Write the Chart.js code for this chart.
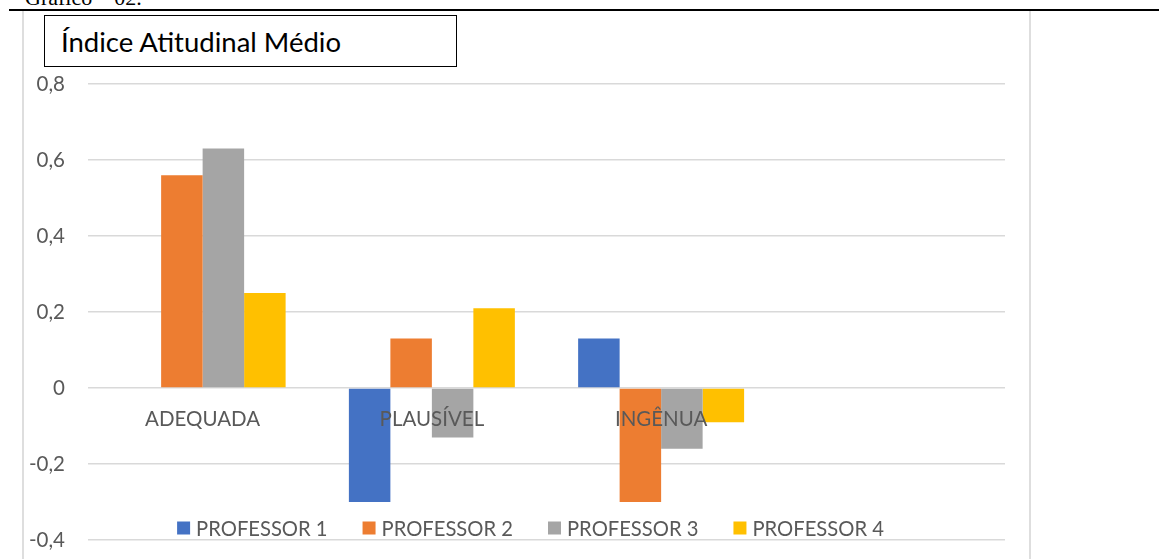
<!DOCTYPE html>
<html>
<head>
	<meta charset="UTF-8">
	<title>Índice Atitudinal Médio</title>
	<script src="https://cdn.jsdelivr.net/npm/chart.js"></script>
	<style>
		body {
			margin: 0;
			width: 1159px;
			height: 559px;
			overflow: hidden;
			background: #ffffff;
			position: relative;
			font-family: Lato, "Open Sans", sans-serif;
		}

		/* text of the document above the chart, cut by the page top */
		#caption {
			position: absolute;
			left: 25px;
			top: -13px;
			font-family: "Liberation Serif", serif;
			font-size: 22px;
			line-height: 22px;
			color: #000;
			white-space: nowrap;
		}

		#rule {
			position: absolute;
			left: 9px;
			right: 0;
			top: 9px;
			height: 2px;
			background: #000;
		}

		#frame {
			position: absolute;
			left: 22px;
			top: 11px;
			width: 1005px;
			height: 560px;
			border-left: 2px solid #dedede;
			border-right: 2px solid #dedede;
		}

		#chartBox {
			position: absolute;
			left: 23px;
			top: 10px;
			width: 1005px;
			height: 549px;
		}

		#titleBox {
			position: absolute;
			left: 44px;
			top: 15px;
			width: 395px;
			height: 50px;
			padding-left: 16px;
			border: 1.5px solid #000;
			background: #fff;
			font-size: 27.5px;
			line-height: 52px;
			color: #000;
			white-space: nowrap;
		}
	</style>
</head>
<body>
	<div id="caption">Gráfico – 02.</div>
	<div id="rule"></div>
	<div id="frame"></div>
	<div id="chartBox"><canvas id="myChart"></canvas></div>
	<div id="titleBox">Índice Atitudinal Médio</div>

	<script>
		// categories (the fourth one is empty in the original sheet)
		const categories = ['ADEQUADA', 'PLAUSÍVEL', 'INGÊNUA', ''];

		const seriesNames = ['PROFESSOR 1', 'PROFESSOR 2', 'PROFESSOR 3', 'PROFESSOR 4'];
		const professor1 = [0, -0.30, 0.13, null];
		const professor2 = [0.56, 0.13, -0.30, null];
		const professor3 = [0.63, -0.13, -0.16, null];
		const professor4 = [0.25, 0.21, -0.09, null];

		const yTicks = [-0.4, -0.2, 0, 0.2, 0.4, 0.6, 0.8];

		const seriesColors = ['#4472C4', '#ED7D31', '#A5A5A5', '#FFC000'];
		const labelColor = '#595959';

		const allSeries = [professor1, professor2, professor3, professor4];

		// legend drawn inside the plot, like the Excel original
		const plotLegend = {
			id: 'plotLegend',
			afterDraw: (chart) => {
				const {ctx} = chart;
				const sets = chart.data.datasets;
				ctx.save();
				ctx.font = '20.2px Lato';
				ctx.textBaseline = 'middle';
				const box = 13, gap = 6, spacing = 35;
				const widths = sets.map(d => box + gap + ctx.measureText(d.label).width);
				const total = widths.reduce((a, b) => a + b, 0) + spacing * (sets.length - 1);
				let x = chart.width / 2 + 5 - total / 2;
				const y = 518;
				sets.forEach((d, i) => {
					ctx.fillStyle = d.backgroundColor;
					ctx.fillRect(x, y - box / 2, box, box);
					ctx.fillStyle = labelColor;
					ctx.textAlign = 'left';
					ctx.fillText(d.label, x + box + gap, y + 1);
					x += widths[i] + spacing;
				});
				ctx.restore();
			}
		};

		const ctx = document.getElementById('myChart').getContext('2d');
		const chart = new Chart(ctx, {
			type: 'bar',
			data: {
				labels: categories,
				datasets: allSeries.map((values, i) => ({
					label: seriesNames[i],
					data: values,
					backgroundColor: seriesColors[i],
					borderWidth: 0
				}))
			},
			options: {
				responsive: true,
				maintainAspectRatio: false,
				animation: false,
				categoryPercentage: 0.724,
				barPercentage: 1.0,
				layout: {
					padding: {
						left: 0,
						right: 23,
						top: 74,
						bottom: 19
					}
				},
				scales: {
					x: {
						position: {y: 0},
						grid: {display: false},
						border: {display: false},
						ticks: {
							z: 1,
							padding: 11,
							maxRotation: 0,
							autoSkip: false,
							color: labelColor,
							font: {family: 'Lato', size: 20.5}
						}
					},
					y: {
						min: -0.4,
						max: 0.8,
						afterBuildTicks: (scale) => {
							scale.ticks = yTicks.map(v => ({value: v}));
						},
						afterFit: (scale) => {
							scale.width = 65;
							// tick padding should not push the plot edges
							scale.paddingTop = 0;
							scale.paddingBottom = 0;
						},
						grid: {
							color: '#d9d9d9',
							lineWidth: 1.5,
							drawTicks: false
						},
						border: {display: false},
						ticks: {
							padding: 23,
							color: labelColor,
							font: {family: 'Lato', size: 20.5},
							callback: (v) => String(Math.round(v * 10) / 10).replace('.', ',')
						}
					}
				},
				plugins: {
					legend: {display: false},
					tooltip: {enabled: false},
					title: {display: false}
				}
			},
			plugins: [plotLegend]
		});
	</script>
</body>
</html>
